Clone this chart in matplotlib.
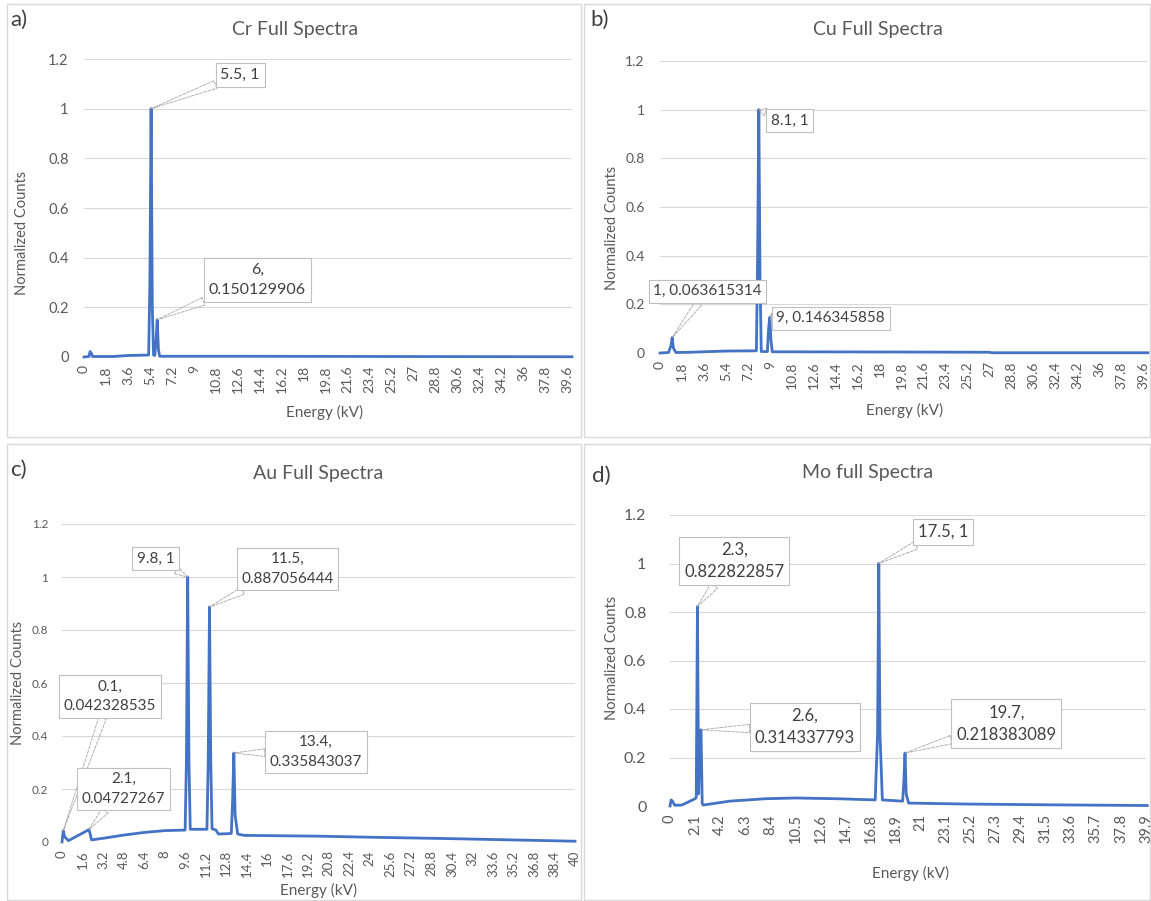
import matplotlib.pyplot as plt
from matplotlib.patches import Rectangle

plt.rcParams['font.family'] = ['Lato', 'DejaVu Sans']

W, H = 1151, 901

# a) Cr spectrum (kV, normalized counts)
cr_kv = [0, 0.4, 0.5, 0.6, 0.7, 2.4, 3.6, 5.3, 5.4, 5.5, 5.6, 5.7, 5.8, 5.9, 6.0, 6.1, 6.2, 12, 25, 40]
cr_counts = [0, 0.002, 0.022, 0.016, 0.002, 0.002, 0.006, 0.008, 0.3, 1, 0.2, 0.008, 0.006, 0.06,
             0.150129906, 0.03, 0.003, 0.003, 0.002, 0.001]
cr_peaks = [(5.5, 1), (6, 0.150129906)]

# b) Cu spectrum
cu_kv = [0, 0.7, 0.9, 1.0, 1.1, 1.3, 2.4, 5.4, 7.9, 8.0, 8.1, 8.2, 8.3, 8.8, 8.9, 9.0, 9.1, 9.2,
         19.8, 27, 27.2, 40]
cu_counts = [0, 0.002, 0.03, 0.063615314, 0.02, 0.002, 0.003, 0.008, 0.009, 0.4, 1, 0.3, 0.006,
             0.006, 0.1, 0.146345858, 0.05, 0.005, 0.004, 0.003, 0.001, 0.001]
cu_peaks = [(8.1, 1), (1, 0.063615314), (9, 0.146345858)]

# c) Au spectrum
au_kv = [0, 0.1, 0.2, 0.5, 2.0, 2.1, 2.2, 2.3, 3.2, 4.8, 6.4, 8, 9.6, 9.7, 9.8, 9.9, 10.0, 11.3,
         11.4, 11.5, 11.6, 11.7, 12.0, 12.2, 13.2, 13.3, 13.4, 13.5, 13.7, 14.2, 20, 24, 30, 35, 40]
au_counts = [0, 0.042328535, 0.02, 0.005, 0.044, 0.04727267, 0.03, 0.008, 0.014, 0.026, 0.036,
             0.043, 0.045, 0.3, 1, 0.3, 0.048, 0.048, 0.3, 0.887056444, 0.3, 0.05, 0.045, 0.03,
             0.032, 0.15, 0.335843037, 0.1, 0.03, 0.025, 0.022, 0.018, 0.013, 0.008, 0.003]
au_peaks = [(9.8, 1), (11.5, 0.887056444), (0.1, 0.042328535), (2.1, 0.04727267), (13.4, 0.335843037)]

# d) Mo spectrum
mo_kv = [0, 0.1, 0.2, 0.4, 1.0, 2.1, 2.2, 2.3, 2.4, 2.5, 2.6, 2.7, 2.8, 5, 8, 10.5, 14, 17.2,
         17.4, 17.5, 17.6, 17.8, 19.5, 19.6, 19.7, 19.8, 20.0, 25, 31.5, 40]
mo_counts = [0, 0.025, 0.02, 0.003, 0.004, 0.03, 0.035, 0.822822857, 0.05, 0.3, 0.314337793,
             0.01, 0.004, 0.02, 0.03, 0.033, 0.03, 0.025, 0.3, 1, 0.3, 0.025, 0.02, 0.1,
             0.218383089, 0.05, 0.012, 0.008, 0.005, 0.002]
mo_peaks = [(2.3, 0.822822857), (17.5, 1), (2.6, 0.314337793), (19.7, 0.218383089)]

titles = ['Cr Full Spectra', 'Cu Full Spectra', 'Au Full Spectra', 'Mo full Spectra']
letters = ['a)', 'b)', 'c)', 'd)']
tick_steps = [1.8, 1.8, 1.6, 2.1]
x_max = [40, 40, 40, 39.9]

# layout (pixels of the 1151x901 canvas)
panels = [
    dict(rect=(84, 59, 572, 357), title=(295, 29), letter=(10, 20), ylab=(22, 233), xlab=(325, 412),
         ypad=11, yfs=10.5, xfs=10, lfs=11.5,
         boxes=[(12.8, 1.135, False), (14.2, 0.31, True)]),
    dict(rect=(660, 61, 1148, 353), title=(878, 30), letter=(590, 20), ylab=(612, 228), xlab=(905, 410),
         ypad=11, yfs=10, xfs=10, lfs=11,
         boxes=[(10.6, 0.955, False), (3.9, 0.254, False), (14.0, 0.143, False)]),
    dict(rect=(62, 524, 575, 842), title=(318, 474), letter=(10, 470), ylab=(18, 683), xlab=(319, 890),
         ypad=10, yfs=8.5, xfs=9.5, lfs=11,
         boxes=[(7.3, 1.07, False), (17.6, 1.03, True), (3.75, 0.55, True), (4.8, 0.2, True),
                (19.8, 0.34, True)]),
    dict(rect=(670, 515, 1146, 806), title=(868, 473), letter=(592, 476), ylab=(612, 658), xlab=(911, 873),
         ypad=17, yfs=11.5, xfs=10.5, lfs=12,
         boxes=[(5.4, 1.01, True), (22.9, 1.13, False), (11.3, 0.325, True), (28.2, 0.34, True)]),
]

series = [(cr_kv, cr_counts, cr_peaks), (cu_kv, cu_counts, cu_peaks),
          (au_kv, au_counts, au_peaks), (mo_kv, mo_counts, mo_peaks)]


def fx(x):
    return x / W


def fy(y):
    return 1 - y / H


def fmt(v):
    s = f"{v:.1f}"
    return s[:-2] if s.endswith('.0') else s


def label_text(x, y, wrap):
    ys = f"{y:.9f}".rstrip('0').rstrip('.')
    return f"{x:g},\n{ys}" if wrap else f"{x:g}, {ys}"


fig = plt.figure(figsize=(W / 100, H / 100), dpi=100)

# panel frames
for (x0, y0, x1, y1) in [(7, 4, 581, 437), (584, 4, 1150, 437), (7, 444, 581, 900), (584, 444, 1150, 900)]:
    fig.patches.append(Rectangle((fx(x0), fy(y1)), (x1 - x0) / W, (y1 - y0) / H,
                                 transform=fig.transFigure, fill=False, ec='#d9d9d9', lw=1))

for i, p in enumerate(panels):
    kv, counts, peaks = series[i]
    l, t, r, b = p['rect']
    ax = fig.add_axes([fx(l), fy(b), (r - l) / W, (b - t) / H])
    ax.plot(kv, counts, color='#4472C4', lw=2.0, clip_on=False, zorder=3)
    ax.set_xlim(0, x_max[i])
    ax.set_ylim(0, 1.2)
    ax.set_yticks([0, 0.2, 0.4, 0.6, 0.8, 1, 1.2])
    ax.set_yticklabels(['0', '0.2', '0.4', '0.6', '0.8', '1', '1.2'])
    n = int(round(x_max[i] / tick_steps[i] + 1e-6))
    ticks = [round(k * tick_steps[i], 1) for k in range(n + 1)]
    ax.set_xticks(ticks)
    ax.set_xticklabels([fmt(v) for v in ticks], rotation=90)
    ax.tick_params(axis='y', length=0, pad=p['ypad'], labelsize=p['yfs'], labelcolor='#595959')
    ax.tick_params(axis='x', length=0, pad=6, labelsize=p['xfs'], labelcolor='#595959')
    ax.yaxis.grid(True, color='#d9d9d9', lw=0.8)
    ax.set_axisbelow(True)
    for s in ax.spines.values():
        s.set_visible(False)

    for (px, py), (tx, ty, wrap) in zip(peaks, p['boxes']):
        ax.annotate(label_text(px, py, wrap), xy=(px, py), xytext=(tx, ty), textcoords='data',
                    ha='center', va='center', fontsize=p['lfs'], color='#404040', linespacing=1.5,
                    bbox=dict(boxstyle='square,pad=0.3', fc='white', ec='#bfbfbf', lw=0.8),
                    arrowprops=dict(arrowstyle='wedge,tail_width=0.5', fc='none', ec='#a6a6a6',
                                    lw=0.6, ls='--', shrinkA=0, shrinkB=0),
                    annotation_clip=False, zorder=5)

    fig.text(fx(p['title'][0]), fy(p['title'][1]), titles[i], ha='center', va='center',
             fontsize=14, color='#595959')
    fig.text(fx(p['letter'][0]), fy(p['letter'][1]), letters[i], ha='left', va='center',
             fontsize=16, color='#404040')
    fig.text(fx(p['ylab'][0]), fy(p['ylab'][1]), 'Normalized Counts', ha='center', va='center',
             rotation=90, fontsize=10.5, color='#595959')
    fig.text(fx(p['xlab'][0]), fy(p['xlab'][1]), 'Energy (kV)', ha='center', va='center',
             fontsize=11, color='#595959')

fig.savefig('out.png', dpi=100)
